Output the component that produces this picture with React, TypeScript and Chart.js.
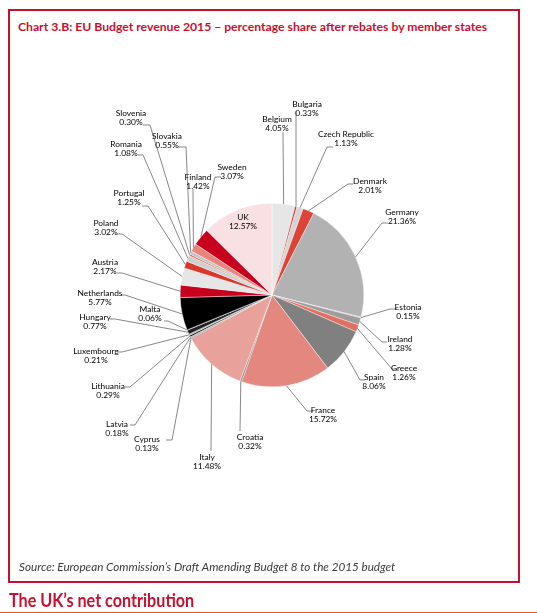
import React, { useEffect, useRef } from "react";
import { Chart, registerables } from "chart.js";

Chart.register(...registerables);

// ---- data (EU protocol order, clockwise from 12 o'clock) ----
const countries = [
  "Belgium", "Bulgaria", "Czech Republic", "Denmark", "Germany", "Estonia", "Ireland",
  "Greece", "Spain", "France", "Croatia", "Italy", "Cyprus", "Latvia", "Lithuania",
  "Luxembourg", "Hungary", "Malta", "Netherlands", "Austria", "Poland", "Portugal",
  "Romania", "Slovenia", "Slovakia", "Finland", "Sweden", "UK",
];
const shares = [
  4.05, 0.33, 1.13, 2.01, 21.36, 0.15, 1.28, 1.26, 8.06, 15.72, 0.32, 11.48, 0.13, 0.18,
  0.29, 0.21, 0.77, 0.06, 5.77, 2.17, 3.02, 1.25, 1.08, 0.3, 0.55, 1.42, 3.07, 12.57,
];
const shareLabels = shares.map((v) => v.toFixed(2) + "%");

// ---- styles ----
const sliceColors = [
  "#e6e6e6", "#d52b1e", "#d4d4d4", "#dc4437", "#b2b2b2", "#e59a92", "#9d9d9d",
  "#e0705f", "#808080", "#e3877f", "#8c8c8c", "#e8a29b", "#333333", "#999999",
  "#111111", "#aaaaaa", "#222222", "#888888", "#000000", "#c8001e", "#e6e6e6",
  "#d9382a", "#d0d0d0", "#e06050", "#c3c3c3", "#e8857a", "#c8001e", "#f9e1e3",
];

// ---- label layout, offsets in px from the pie centre ----
const labelOffset: [number, number][] = [
  [5, -176], [35, -191], [74, -161], [98, -114], [130, -83], [136, 12], [128, 44],
  [132, 73], [102, 82], [51, 115], [-22, 142], [-65, 162], [-125, 144], [-155, 129],
  [-164, 91], [-176, 56], [-177, 22], [-122, 14], [-172, -2], [-167, -33], [-166, -72],
  [-143, -102], [-146, -151], [-141, -182], [-105, -159], [-74, -118], [-40, -128], [-29, -78],
];
const leaderElbow: ([number, number] | null)[] = [
  [11, -163], [24, -184], [55, -148], [76, -111], [110, -72], [118, 14], [110, 47],
  [120, 74], [88, 85], [35, 116], [-32, 136], [-61, 156], [-100, 145], [-137, 130],
  [-142, 92], [-150, 57], [-157, 24], [-104, 26], [-147, 0], [-150, -22], [-150, -61],
  [-124, -89], [-129, -140], [-122, -170], [-86, -148], [-79, -106], [-57, -118], null,
];
const leaderEnd: ([number, number] | null)[] = [
  [11, -163], [24, -184], [61, -148], [81, -111], [116, -72], [125, 14], [115, 47],
  [125, 74], [93, 85], [41, 116], [-32, 136], [-61, 156], [-106, 145], [-142, 130],
  [-147, 92], [-155, 57], [-162, 24], [-108, 26], [-151, 0], [-155, -22], [-155, -61],
  [-130, -89], [-134, -140], [-129, -170], [-94, -148], [-79, -106], [-51, -118], null,
];

const RED = "#c8102e";

const labelPlugin = {
  id: "pieLabels",
  afterDatasetsDraw(chart: any) {
    const meta = chart.getDatasetMeta(0);
    const ctx = chart.ctx;
    ctx.save();
    ctx.font = "8.4px Lato, 'Open Sans', sans-serif";
    ctx.textAlign = "center";
    ctx.textBaseline = "middle";
    meta.data.forEach((arc: any, i: number) => {
      const p = arc.getProps(["x", "y", "startAngle", "endAngle", "outerRadius"], true);
      const mid = (p.startAngle + p.endAngle) / 2;
      const ax = p.x + Math.cos(mid) * p.outerRadius;
      const ay = p.y + Math.sin(mid) * p.outerRadius;
      const el = leaderElbow[i];
      const en = leaderEnd[i];
      if (el && en) {
        ctx.beginPath();
        ctx.strokeStyle = "#555";
        ctx.lineWidth = 0.7;
        ctx.moveTo(ax, ay);
        ctx.lineTo(p.x + el[0], p.y + el[1]);
        ctx.lineTo(p.x + en[0], p.y + en[1]);
        ctx.stroke();
      }
      const [dx, dy] = labelOffset[i];
      ctx.fillStyle = "#000";
      ctx.fillText(countries[i], p.x + dx, p.y + dy);
      ctx.fillText(shareLabels[i], p.x + dx, p.y + dy + 9.5);
    });
    ctx.restore();
  },
};

function PieChart() {
  const ref = useRef<HTMLCanvasElement | null>(null);
  useEffect(() => {
    if (!ref.current) return;
    const chart = new Chart(ref.current, {
      type: "pie",
      data: {
        labels: countries,
        datasets: [
          {
            data: shares,
            backgroundColor: sliceColors,
            borderColor: "#ffffff",
            borderWidth: 0.4,
            hoverOffset: 0,
          },
        ],
      },
      options: {
        responsive: false,
        animation: false,
        layout: { padding: { left: 180, right: 173, top: 203, bottom: 226 } },
        plugins: {
          legend: { display: false },
          tooltip: { enabled: false },
          title: { display: false },
        },
      },
      plugins: [labelPlugin],
    });
    return () => chart.destroy();
  }, []);
  return (
    <canvas
      ref={ref}
      width={537}
      height={613}
      style={{ position: "absolute", left: 0, top: 0, width: 537, height: 613 }}
    />
  );
}

export default function App() {
  return (
    <div
      style={{
        position: "absolute",
        left: 0,
        top: 0,
        width: 537,
        height: 613,
        overflow: "hidden",
        background: "#fff",
        fontFamily: "Lato, 'Open Sans', sans-serif",
      }}
    >
      <div
        style={{
          position: "absolute",
          left: 8,
          top: 9,
          width: 512,
          height: 574,
          boxSizing: "border-box",
          border: `2.3px solid ${RED}`,
        }}
      />
      <div
        style={{
          position: "absolute",
          left: 18,
          top: 19.5,
          fontSize: 12.2,
          lineHeight: "13px",
          fontWeight: 700,
          color: RED,
          whiteSpace: "nowrap",
        }}
      >
        Chart 3.B: EU Budget revenue 2015 – percentage share after rebates by member states
      </div>
      <PieChart />
      <div
        style={{
          position: "absolute",
          left: 19,
          top: 559,
          fontSize: 11.7,
          lineHeight: "14px",
          fontStyle: "italic",
          color: "#3a3a3a",
          whiteSpace: "nowrap",
        }}
      >
        Source: European Commission’s Draft Amending Budget 8 to the 2015 budget
      </div>
      <div
        style={{
          position: "absolute",
          left: 9,
          top: 590,
          fontSize: 19,
          lineHeight: "19px",
          fontWeight: 700,
          color: RED,
          whiteSpace: "nowrap",
          transform: "scaleX(0.85)",
          transformOrigin: "left top",
        }}
      >
        The UK’s net contribution
      </div>
      <div
        style={{
          position: "absolute",
          left: 0,
          top: 611.5,
          width: 537,
          height: 1.5,
          background: "#e8541e",
        }}
      />
    </div>
  );
}
